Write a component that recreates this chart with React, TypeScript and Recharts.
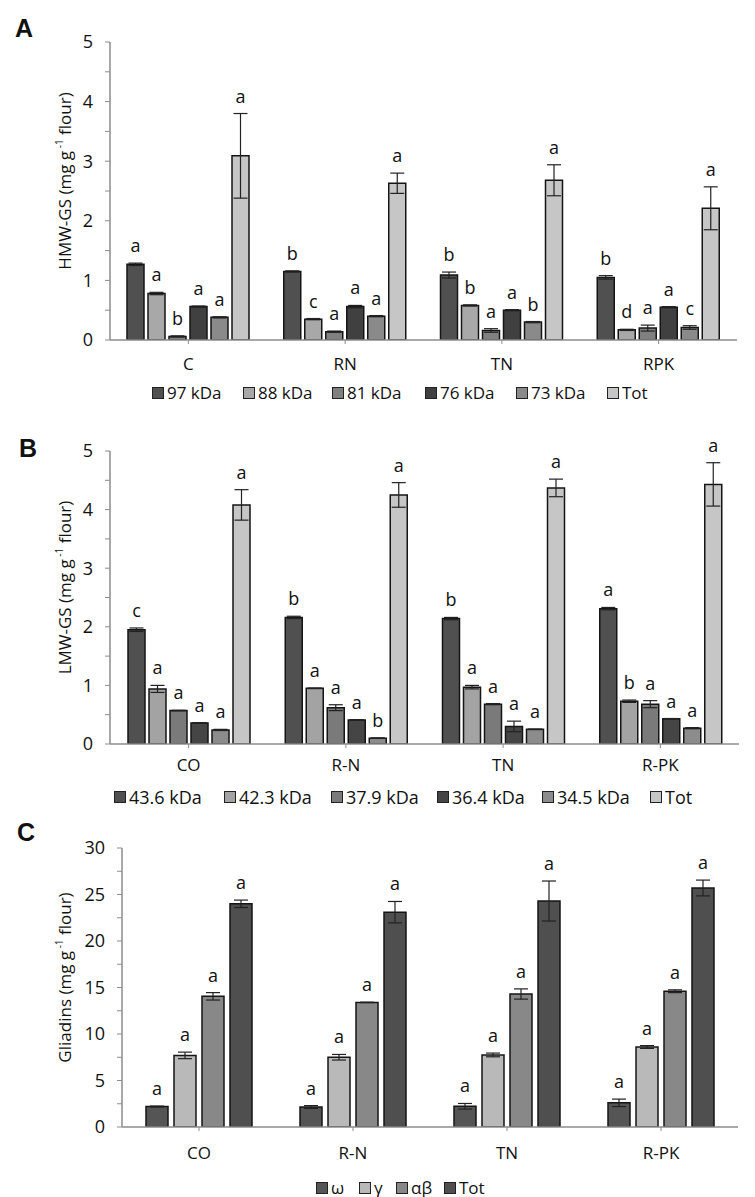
import React from 'react';
import {
  BarChart,
  Bar,
  XAxis,
  YAxis,
  ErrorBar,
  LabelList,
  Label,
  Legend,
} from 'recharts';

const FONT = '"Open Sans", "DejaVu Sans", sans-serif';

// Panel A - HMW-GS
const hmwCats = ['C', 'RN', 'TN', 'RPK'];
const hmwSeries = ['97 kDa', '88 kDa', '81 kDa', '76 kDa', '73 kDa', 'Tot'];
const hmwValues = [
  [1.27, 0.78, 0.06, 0.56, 0.38, 3.09],
  [1.15, 0.35, 0.14, 0.56, 0.4, 2.63],
  [1.09, 0.58, 0.16, 0.5, 0.3, 2.68],
  [1.05, 0.17, 0.2, 0.55, 0.21, 2.21],
];
const hmwErrors = [
  [0.02, 0.02, 0.01, 0.01, 0.01, 0.71],
  [0.01, 0.01, 0.01, 0.02, 0.01, 0.17],
  [0.05, 0.01, 0.03, 0.01, 0.01, 0.26],
  [0.03, 0.01, 0.05, 0.01, 0.03, 0.36],
];
const hmwLetters = [
  ['a', 'a', 'b', 'a', 'a', 'a'],
  ['b', 'c', 'a', 'a', 'a', 'a'],
  ['b', 'b', 'a', 'a', 'b', 'a'],
  ['b', 'd', 'a', 'a', 'c', 'a'],
];
const hmwTicks = [0, 0.5, 1, 1.5, 2, 2.5, 3, 3.5, 4, 4.5, 5];

// Panel B - LMW-GS
const lmwCats = ['CO', 'R-N', 'TN', 'R-PK'];
const lmwSeries = ['43.6 kDa', '42.3 kDa', '37.9 kDa', '36.4 kDa', '34.5 kDa', 'Tot'];
const lmwValues = [
  [1.95, 0.94, 0.57, 0.36, 0.24, 4.08],
  [2.16, 0.95, 0.62, 0.41, 0.1, 4.25],
  [2.14, 0.97, 0.68, 0.3, 0.25, 4.37],
  [2.31, 0.73, 0.68, 0.43, 0.27, 4.43],
];
const lmwErrors = [
  [0.03, 0.06, 0.005, 0.005, 0.01, 0.26],
  [0.02, 0.005, 0.05, 0.005, 0.005, 0.21],
  [0.02, 0.03, 0.01, 0.09, 0.005, 0.15],
  [0.02, 0.02, 0.06, 0.005, 0.01, 0.37],
];
const lmwLetters = [
  ['c', 'a', 'a', 'a', 'a', 'a'],
  ['b', 'a', 'a', 'a', 'b', 'a'],
  ['b', 'a', 'a', 'a', 'a', 'a'],
  ['a', 'b', 'a', 'a', 'a', 'a'],
];
const lmwTicks = [0, 0.5, 1, 1.5, 2, 2.5, 3, 3.5, 4, 4.5, 5];

// Panel C - Gliadins
const gliCats = ['CO', 'R-N', 'TN', 'R-PK'];
const gliSeries = ['ω', 'γ', 'αβ', 'Tot'];
const gliValues = [
  [2.2, 7.7, 14.05, 24.0],
  [2.15, 7.5, 13.4, 23.1],
  [2.23, 7.75, 14.3, 24.3],
  [2.6, 8.6, 14.6, 25.7],
];
const gliErrors = [
  [0.05, 0.35, 0.4, 0.4],
  [0.15, 0.3, 0.02, 1.15],
  [0.3, 0.2, 0.55, 2.15],
  [0.4, 0.15, 0.15, 0.85],
];
const gliLetters = [
  ['a', 'a', 'a', 'a'],
  ['a', 'a', 'a', 'a'],
  ['a', 'a', 'a', 'a'],
  ['a', 'a', 'a', 'a'],
];
const gliTicks = [0, 2.5, 5, 7.5, 10, 12.5, 15, 17.5, 20, 22.5, 25, 27.5, 30];

const hmwColors = ['#505050', '#a8a8a8', '#808080', '#404040', '#8a8a8a', '#c6c6c6'];
const lmwColors = ['#505050', '#a3a3a3', '#7a7a7a', '#454545', '#8c8c8c', '#c6c6c6'];
const gliColors = ['#555555', '#b9b9b9', '#888888', '#4f4f4f'];

const AXIS = '#8c8c8c';

type PanelProps = {
  letter: string;
  top: number;
  height: number;
  cats: string[];
  series: string[];
  values: number[][];
  errors: number[][];
  letters: string[][];
  colors: string[];
  ticks: number[];
  yMax: number;
  yTitle: string;
  margin: { top: number; right: number; left: number; bottom: number };
  yAxisWidth: number;
  xTickMargin: number;
  barSize: number;
  barGap: number;
  legendTop: number;
  legendLeft: number;
  legendPitch: number[];
  legendFont: number;
  letterPos: { left: number; top: number };
};

function Panel(p: PanelProps) {
  const data = p.cats.map((cat, ci) => {
    const row: Record<string, string | number> = { cat };
    p.series.forEach((_, si) => {
      row[`v${si}`] = p.values[ci][si];
      row[`e${si}`] = p.errors[ci][si];
      row[`s${si}`] = p.letters[ci][si];
    });
    return row;
  });

  // significance letter sits just above the error bar
  const renderSig = (si: number) => (props: any) => {
    const vb = props.viewBox || {};
    const x = Number(props.x ?? vb.x);
    const y = Number(props.y ?? vb.y);
    const w = Number(props.width ?? vb.width);
    const h = Number(props.height ?? vb.height);
    const row = data[props.index];
    if (!row) return null;
    const val = Number(row[`v${si}`]);
    const err = Number(row[`e${si}`]);
    const errTop = y - (err * h) / val;
    return (
      <text
        x={x + w / 2}
        y={errTop - 11}
        textAnchor="middle"
        fontSize={18}
        fontFamily={FONT}
        fill="#111"
      >
        {props.value}
      </text>
    );
  };

  const renderYTitle = (props: any) => {
    const vb = props.viewBox || {};
    const cy = vb.y + vb.height / 2 - 10;
    const cx = 66;
    return (
      <text
        x={cx}
        y={cy}
        transform={`rotate(-90, ${cx}, ${cy})`}
        textAnchor="middle"
        dominantBaseline="middle"
        fontSize={17}
        fontFamily={FONT}
        fill="#111"
      >
        <tspan>{p.yTitle} (mg g</tspan>
        <tspan dy={-6} fontSize={10}> -1</tspan>
        <tspan dy={6}> flour)</tspan>
      </text>
    );
  };

  const renderLegend = () => (
    <div
      style={{
        display: 'flex',
        paddingLeft: p.legendLeft,
        fontFamily: FONT,
        fontSize: p.legendFont,
        color: '#111',
        lineHeight: '18px',
      }}
    >
      {p.series.map((s, i) => (
        <div
          key={s}
          style={{ display: 'flex', alignItems: 'center', width: p.legendPitch[i] }}
        >
          <span
            style={{
              display: 'inline-block',
              width: 10,
              height: 10,
              background: p.colors[i],
              border: '1px solid #222',
              marginRight: 3,
            }}
          />
          <span>{s}</span>
        </div>
      ))}
    </div>
  );

  return (
    <div style={{ position: 'absolute', left: 0, top: p.top }}>
      <div
        style={{
          position: 'absolute',
          left: p.letterPos.left,
          top: p.letterPos.top,
          fontFamily: '"Liberation Sans", Arial, sans-serif',
          fontWeight: 'bold',
          fontSize: 25,
          lineHeight: '25px',
          color: '#111',
        }}
      >
        {p.letter}
      </div>
      <BarChart
        width={755}
        height={p.height}
        data={data}
        margin={p.margin}
        barSize={p.barSize}
        barGap={p.barGap}
      >
        <XAxis
          dataKey="cat"
          height={30}
          axisLine={{ stroke: AXIS, strokeWidth: 1.5 }}
          tickLine={{ stroke: AXIS }}
          tickSize={4}
          tickMargin={p.xTickMargin}
          tick={{ fill: '#111', fontSize: 17, fontFamily: FONT }}
        />
        <YAxis
          width={p.yAxisWidth}
          domain={[0, p.yMax]}
          ticks={p.ticks}
          interval={0}
          allowDataOverflow
          axisLine={{ stroke: AXIS, strokeWidth: 1.5 }}
          tickLine={{ stroke: AXIS }}
          tickSize={5}
          tickMargin={12}
          tickFormatter={(v: number) => (v % (p.ticks[2] - p.ticks[0]) === 0 ? String(v) : '')}
          tick={{ fill: '#111', fontSize: 18, fontFamily: FONT }}
        >
          <Label content={renderYTitle} />
        </YAxis>
        <Legend
          verticalAlign="middle"
          align="center"
          content={renderLegend}
          wrapperStyle={{ top: p.legendTop, left: 0, width: 755, height: 20 }}
        />
        {p.series.map((s, si) => (
          <Bar
            key={s}
            dataKey={`v${si}`}
            name={s}
            fill={p.colors[si]}
            stroke="#151515"
            strokeWidth={1.5}
            isAnimationActive={false}
          >
            <ErrorBar
              dataKey={`e${si}`}
              width={7}
              stroke="#222"
              strokeWidth={1.2}
              direction="y"
              isAnimationActive={false}
            />
            <LabelList dataKey={`s${si}`} content={renderSig(si)} />
          </Bar>
        ))}
      </BarChart>
    </div>
  );
}

export default function App() {
  return (
    <div
      style={{
        position: 'absolute',
        left: 0,
        top: 0,
        width: 755,
        height: 1197,
        background: '#fff',
      }}
    >
      <Panel
        letter="A"
        top={0}
        height={410}
        cats={hmwCats}
        series={hmwSeries}
        values={hmwValues}
        errors={hmwErrors}
        letters={hmwLetters}
        colors={hmwColors}
        ticks={hmwTicks}
        yMax={5}
        yTitle="HMW-GS"
        margin={{ top: 42, right: 18, left: 0, bottom: 40 }}
        yAxisWidth={110}
        xTickMargin={14}
        barSize={17}
        barGap={4}
        legendTop={384}
        legendLeft={152}
        legendPitch={[91, 89, 93, 91, 91, 60]}
        legendFont={17}
        letterPos={{ left: 15, top: 16 }}
      />
      <Panel
        letter="B"
        top={405}
        height={400}
        cats={lmwCats}
        series={lmwSeries}
        values={lmwValues}
        errors={lmwErrors}
        letters={lmwLetters}
        colors={lmwColors}
        ticks={lmwTicks}
        yMax={5}
        yTitle="LMW-GS"
        margin={{ top: 46, right: 16, left: 0, bottom: 31 }}
        yAxisWidth={110}
        xTickMargin={11}
        barSize={17}
        barGap={4}
        legendTop={383}
        legendLeft={114}
        legendPitch={[110, 107, 106, 105, 108, 60]}
        legendFont={18}
        letterPos={{ left: 19, top: 31 }}
      />
      <Panel
        letter="C"
        top={800}
        height={397}
        cats={gliCats}
        series={gliSeries}
        values={gliValues}
        errors={gliErrors}
        letters={gliLetters}
        colors={gliColors}
        ticks={gliTicks}
        yMax={30}
        yTitle="Gliadins"
        margin={{ top: 48, right: 17, left: 0, bottom: 40 }}
        yAxisWidth={122}
        xTickMargin={16}
        barSize={22}
        barGap={6}
        legendTop={379}
        legendLeft={316}
        legendPitch={[43, 37, 48, 50]}
        legendFont={17}
        letterPos={{ left: 17, top: 20 }}
      />
    </div>
  );
}
